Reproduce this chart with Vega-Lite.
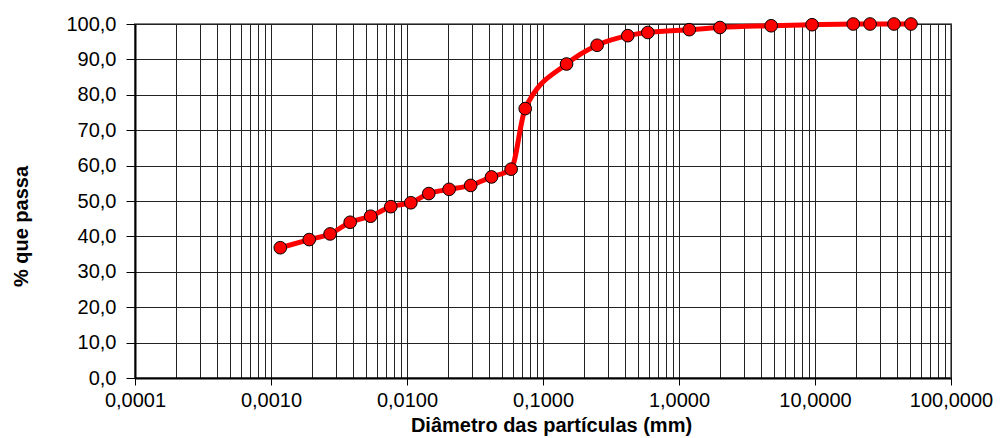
{
  "$schema": "https://vega.github.io/schema/vega-lite/v6.json",
  "autosize": {"type": "none"},
  "width": 816,
  "height": 354,
  "padding": {"left": 135, "top": 24, "right": 49, "bottom": 60},
  "background": "white",
  "config": {
    "font": "Liberation Sans",
    "view": {"stroke": "#808080", "strokeWidth": 2},
    "axis": {"labelFont": "Liberation Sans", "titleFont": "Liberation Sans", "labelColor": "#000", "titleColor": "#000"}
  },
  "data": {
    "values": [
      {"d": 0.00117, "p": 36.8},
      {"d": 0.00191, "p": 39.1},
      {"d": 0.00272, "p": 40.7},
      {"d": 0.00382, "p": 44.0},
      {"d": 0.0054, "p": 45.7},
      {"d": 0.0076, "p": 48.4},
      {"d": 0.01067, "p": 49.5},
      {"d": 0.01445, "p": 52.1},
      {"d": 0.0204, "p": 53.3},
      {"d": 0.0294, "p": 54.4},
      {"d": 0.0418, "p": 56.8},
      {"d": 0.0583, "p": 59.0},
      {"d": 0.074, "p": 76.1},
      {"d": 0.149, "p": 88.7},
      {"d": 0.25, "p": 94.0},
      {"d": 0.42, "p": 96.7},
      {"d": 0.59, "p": 97.6},
      {"d": 1.19, "p": 98.4},
      {"d": 2.0, "p": 99.0},
      {"d": 4.76, "p": 99.5},
      {"d": 9.52, "p": 99.8},
      {"d": 19.1, "p": 100.0},
      {"d": 25.4, "p": 100.0},
      {"d": 38.1, "p": 100.0},
      {"d": 50.8, "p": 100.0}
    ]
  },
  "encoding": {
    "x": {
      "field": "d",
      "type": "quantitative",
      "scale": {"type": "log", "domain": [0.0001, 100], "nice": false},
      "axis": {
        "title": "Diâmetro das partículas (mm)",
        "titleFontSize": 20,
        "titleFontWeight": "bold",
        "titleX": 416,
        "titleY": 53,
        "titleBaseline": "alphabetic",
        "titleAlign": "center",
        "values": [0.0001, 0.0002, 0.0003, 0.0004, 0.0005, 0.0006, 0.0007, 0.0008, 0.0009,
                   0.001, 0.002, 0.003, 0.004, 0.005, 0.006, 0.007, 0.008, 0.009,
                   0.01, 0.02, 0.03, 0.04, 0.05, 0.06, 0.07, 0.08, 0.09,
                   0.1, 0.2, 0.3, 0.4, 0.5, 0.6, 0.7, 0.8, 0.9,
                   1, 2, 3, 4, 5, 6, 7, 8, 9,
                   10, 20, 30, 40, 50, 60, 70, 80, 90, 100],
        "labelExpr": "indexof([0.0001,0.001,0.01,0.1,1,10,100], datum.value) >= 0 ? replace(format(datum.value, '.4f'), '.', ',') : ''",
        "labelFontSize": 20,
        "labelFlush": false,
        "labelOverlap": false,
        "labelPadding": 5,
        "tickSize": 7,
        "tickColor": "#000",
        "tickOpacity": {"condition": {"test": "indexof([0.0001,0.001,0.01,0.1,1,10,100], datum.value) >= 0", "value": 1}, "value": 0},
        "domainColor": "#000",
        "domainWidth": 2,
        "grid": true,
        "gridColor": "#222",
        "gridWidth": 1,
        "gridOpacity": 1
      }
    },
    "y": {
      "field": "p",
      "type": "quantitative",
      "scale": {"domain": [0, 100], "nice": false, "zero": true},
      "axis": {
        "title": "% que passa",
        "titleFontSize": 20,
        "titleFontWeight": "bold",
        "titleX": -114,
        "titleY": 202,
        "titleAngle": -90,
        "titleAlign": "center",
        "titleBaseline": "middle",
        "values": [0, 10, 20, 30, 40, 50, 60, 70, 80, 90, 100],
        "labelExpr": "replace(format(datum.value, '.1f'), '.', ',')",
        "labelFontSize": 20,
        "labelPadding": 10,
        "labelFlush": false,
        "labelOverlap": false,
        "tickSize": 9,
        "tickColor": "#000",
        "domainColor": "#000",
        "domainWidth": 2,
        "grid": true,
        "gridColor": "#222",
        "gridWidth": 1,
        "gridOpacity": 1
      }
    }
  },
  "layer": [
    {"mark": {"type": "line", "color": "#ff0000", "strokeWidth": 5, "interpolate": "monotone"}},
    {"mark": {"type": "point", "shape": "circle", "filled": true, "fill": "#ff0000", "stroke": "#000", "strokeWidth": 1, "size": 160, "opacity": 1}}
  ]
}
